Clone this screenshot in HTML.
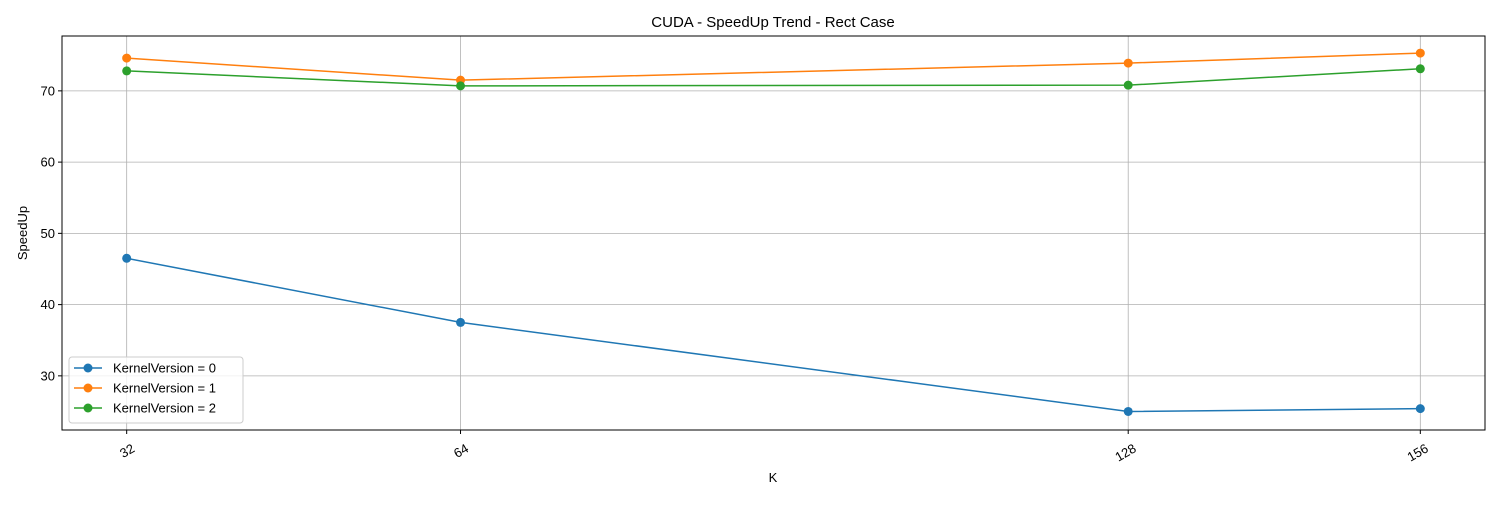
<!DOCTYPE html>
<html><head><meta charset="utf-8"><style>
body{margin:0;background:#fff;font-family:"Liberation Sans","DejaVu Sans",sans-serif}
</style></head><body>
<svg id="chart" width="1500" height="500" xmlns="http://www.w3.org/2000/svg">
<text x="773" y="27" font-size="15" text-anchor="middle">CUDA - SpeedUp Trend - Rect Case</text>
<g id="grid"></g>
<g id="marks"></g>
<rect x="62" y="36" width="1423" height="394" fill="none" stroke="#000" stroke-width="1"/>
<text x="773" y="482" font-size="13" text-anchor="middle">K</text>
<text transform="translate(27,233) rotate(-90)" font-size="13" text-anchor="middle">SpeedUp</text>
<g id="legend"></g>
</svg>
<script>
const categories=[32,64,128,156];
const series0=[46.5,37.5,25.0,25.4];
const series1=[74.6,71.5,73.9,75.3];
const series2=[72.8,70.7,70.8,73.1];
const seriesNames=["KernelVersion = 0","KernelVersion = 1","KernelVersion = 2"];
const yTicks=[30,40,50,60,70];
const colors=["#1f77b4","#ff7f0e","#2ca02c"];
const L=62,R=1485,T=36,B=430,xMin=25.8,xMax=162.2,yMin=22.4,yMax=77.7;
const X=v=>L+(v-xMin)/(xMax-xMin)*(R-L);
const Y=v=>B-(v-yMin)/(yMax-yMin)*(B-T);
const NS="http://www.w3.org/2000/svg";
function mk(t,a,p){const e=document.createElementNS(NS,t);for(const k in a)e.setAttribute(k,a[k]);p.appendChild(e);return e;}
const grid=document.getElementById('grid'),marks=document.getElementById('marks'),leg=document.getElementById('legend');
categories.forEach(c=>{const x=X(c);
const g=mk('line',{x1:x,x2:x,y1:T,y2:B,stroke:'#b0b0b0','stroke-width':0.8},grid);


const tk=mk('line',{x1:x,x2:x,y1:B,y2:B+4,stroke:'#000'},grid);


const t=mk('text',{x:0,y:0,'font-size':13,'text-anchor':'end',transform:`translate(${x+9},${B+21}) rotate(-30)`},grid);t.textContent=c;

});
yTicks.forEach(v=>{const y=Y(v);
const g=mk('line',{x1:L,x2:R,y1:y,y2:y,stroke:'#b0b0b0','stroke-width':0.8},grid);


const tk=mk('line',{x1:L-4,x2:L,y1:y,y2:y,stroke:'#000'},grid);


const t=mk('text',{x:L-7,y:y+4.5,'font-size':13,'text-anchor':'end'},grid);t.textContent=v;

});
[series0,series1,series2].forEach((s,i)=>{
const pl=mk('polyline',{points:s.map((v,j)=>X(categories[j])+','+Y(v)).join(' '),fill:'none',stroke:colors[i],'stroke-width':1.5},marks);


s.forEach((v,j)=>{const c=mk('circle',{cx:X(categories[j]),cy:Y(v),r:4.5,fill:colors[i]},marks);

});});
const box=mk('rect',{x:69,y:357,width:174,height:66,rx:3,fill:'#fff','fill-opacity':0.8,stroke:'#ccc'},leg);


seriesNames.forEach((n,i)=>{const y=368+i*20;
const ln=mk('line',{x1:74,x2:102,y1:y,y2:y,stroke:colors[i],'stroke-width':1.5},leg);


const c=mk('circle',{cx:88,cy:y,r:4.5,fill:colors[i]},leg);


const t=mk('text',{x:113,y:y+4.5,'font-size':13},leg);t.textContent=n;

});
</script>
</body></html>
